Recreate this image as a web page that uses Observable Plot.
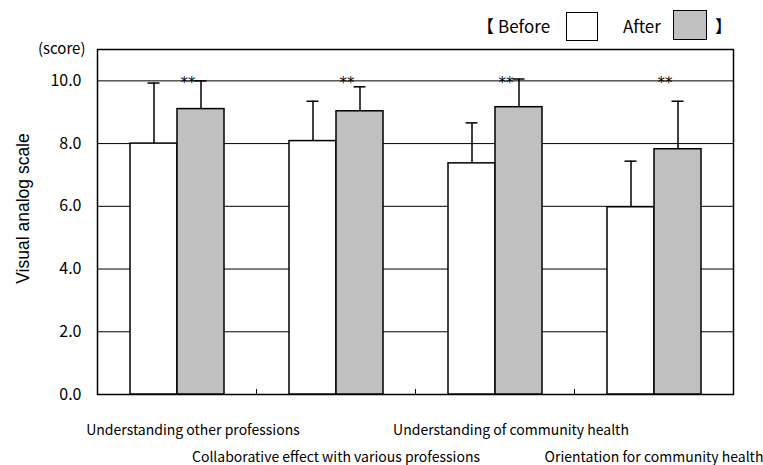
<!DOCTYPE html>
<html>
<head>
<meta charset="utf-8">
<script src="https://cdn.jsdelivr.net/npm/d3@7"></script>
<script src="https://cdn.jsdelivr.net/npm/@observablehq/plot@0.6"></script>
<style>
  html, body { margin: 0; padding: 0; background: #fff; }
  #wrap { position: relative; width: 763px; height: 465px; }
  #legend { position: absolute; left: 0; top: 0; width: 763px; height: 48px;
    font-family: "Noto Sans CJK JP", sans-serif; font-size: 17px; color: #000; line-height: 1; }
  #legend span { position: absolute; white-space: nowrap; }
  #legend .box { border: 1.3px solid #000; box-sizing: border-box; }
</style>
</head>
<body>
<div id="wrap">
  <div id="legend"></div>
</div>
<script>
const categories = [
  "Understanding other professions",
  "Collaborative effect with various professions",
  "Understanding of community health",
  "Orientation for community health"
];
const periods = ["Before", "After"];
const beforeMean = [8.0, 8.08, 7.37, 5.97];
const beforeSD = [1.93, 1.27, 1.29, 1.47];
const afterMean = [9.1, 9.03, 9.16, 7.82];
const afterSD = [0.9, 0.78, 0.9, 1.53];
const significance = ["**", "**", "**", "**"];
const yTicks = [0, 2, 4, 6, 8, 10];
const periodColors = ["#ffffff", "#c0c0c0"];

const rows = [];
categories.forEach((c, i) => {
  rows.push({category: c, period: "Before", mean: beforeMean[i], sd: beforeSD[i]});
  rows.push({category: c, period: "After", mean: afterMean[i], sd: afterSD[i], sig: significance[i]});
});

const font = "'Noto Sans CJK JP', sans-serif";

const chart = Plot.plot({
  width: 763,
  height: 465,
  marginTop: 49,
  marginBottom: 71,
  marginLeft: 96,
  marginRight: 30,
  style: {fontFamily: font, color: "#000", background: "transparent", overflow: "visible"},
  fx: {domain: categories, padding: 0, axis: null},
  x: {domain: periods, paddingInner: 0, paddingOuter: 0.69, axis: null},
  y: {domain: [0, 11], axis: null},
  color: {domain: periods, range: periodColors},
  marks: [
    Plot.gridY(yTicks.filter(d => d > 0), {stroke: "#000", strokeOpacity: 1, strokeWidth: 1}),
    Plot.frame({anchor: "left", insetTop: 340, stroke: "#000", strokeWidth: 1}),
    Plot.frame({facet: "super", stroke: "#000", strokeWidth: 1.5}),
    Plot.ruleX(rows, {fx: "category", x: "period", y1: "mean", y2: d => d.mean + d.sd, stroke: "#000", strokeWidth: 1.5}),
    Plot.tickY(rows, {fx: "category", x: "period", y: d => d.mean + d.sd, insetLeft: 17.5, insetRight: 17.5, stroke: "#000", strokeWidth: 1.5}),
    Plot.barY(rows, {fx: "category", x: "period", y: "mean", fill: "period", stroke: "#000", strokeWidth: 1.5}),
    Plot.text(rows.filter(d => d.sig), {fx: "category", x: "period", y: yTicks[yTicks.length - 1], text: "sig", dx: -13, dy: 2, fontSize: 15, fill: "#000", fontFamily: "'DejaVu Sans', sans-serif", letterSpacing: -1}),
    Plot.axisY({ticks: yTicks, tickSize: 0, tickPadding: 16, fontSize: 16, tickFormat: d => d.toFixed(1), label: null}),
    Plot.text(["(score)"], {fx: () => categories[0], frameAnchor: "top-left", dx: -12, textAnchor: "end", lineAnchor: "middle", fontSize: 15}),
    Plot.text(["Visual analog scale"], {fx: () => categories[0], frameAnchor: "left", rotate: -90, dx: -74, dy: -13.5, textAnchor: "middle", lineAnchor: "middle", fontSize: 17.5, fontFamily: "'Liberation Sans', Arial, sans-serif"}),
    Plot.text(categories.filter((d, i) => i % 2 === 0), {fx: d => d, frameAnchor: "bottom", dx: 16, dy: 36, lineAnchor: "middle", fontSize: 14}),
    Plot.text(categories.filter((d, i) => i % 2 === 1), {fx: d => d, frameAnchor: "bottom", dx: 0, dy: 63, lineAnchor: "middle", fontSize: 14})
  ]
});
document.getElementById("wrap").appendChild(chart);

const legend = document.getElementById("legend");
legend.innerHTML =
  `<span style="left:477px;top:17px">【</span>` +
  `<span style="left:498px;top:17px">${periods[0]}</span>` +
  `<span class="box" style="left:566px;top:12px;width:32px;height:29px;background:${periodColors[0]}"></span>` +
  `<span style="left:623px;top:17px">${periods[1]}</span>` +
  `<span class="box" style="left:673px;top:10px;width:34px;height:30px;background:${periodColors[1]}"></span>` +
  `<span style="left:715px;top:17px">】</span>`;
</script>
</body>
</html>
